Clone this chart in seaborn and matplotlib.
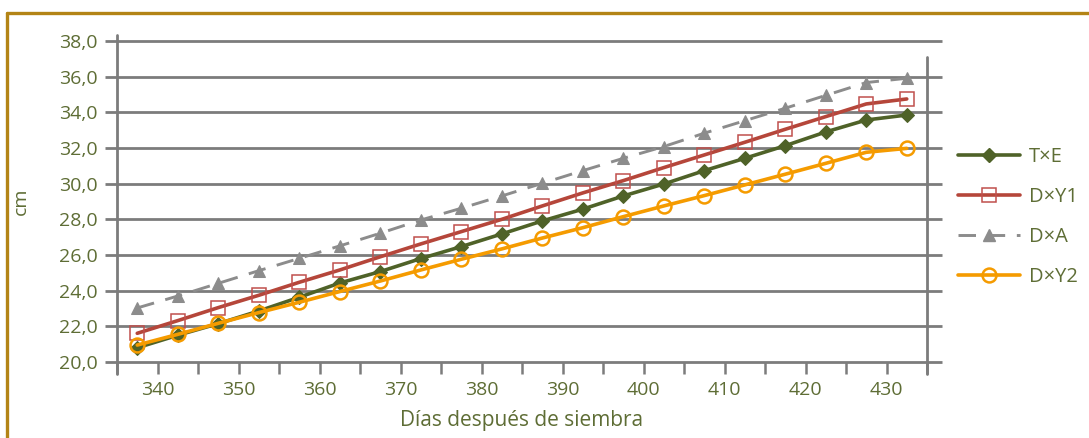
import matplotlib
matplotlib.use("Agg")
import matplotlib.pyplot as plt
from matplotlib.lines import Line2D
from matplotlib.ticker import FuncFormatter, MultipleLocator
import seaborn as sns
import pandas as pd

# ---- data ----
dias = [337.5, 342.5, 347.5, 352.5, 357.5, 362.5, 367.5, 372.5, 377.5, 382.5,
        387.5, 392.5, 397.5, 402.5, 407.5, 412.5, 417.5, 422.5, 427.5, 432.5]
txe = [20.8, 21.5, 22.15, 22.86, 23.63, 24.43, 25.07, 25.8, 26.47, 27.18,
       27.91, 28.57, 29.31, 29.98, 30.73, 31.42, 32.13, 32.9, 33.57, 33.85]
dxy1 = [21.61, 22.32, 23.05, 23.74, 24.47, 25.16, 25.9, 26.62, 27.31, 28.0,
        28.75, 29.48, 30.17, 30.9, 31.61, 32.32, 33.05, 33.76, 34.47, 34.75]
dxa = [23.03, 23.7, 24.41, 25.12, 25.81, 26.51, 27.22, 27.96, 28.62, 29.31,
       30.02, 30.73, 31.42, 32.08, 32.83, 33.53, 34.23, 34.95, 35.67, 35.91]
dxy2 = [20.95, 21.55, 22.17, 22.77, 23.35, 23.95, 24.54, 25.16, 25.76, 26.34,
        26.95, 27.53, 28.15, 28.75, 29.33, 29.93, 30.53, 31.14, 31.76, 31.98]
series_names = ["T×E", "D×Y1", "D×A", "D×Y2"]
x_label = "Días después de siembra"
y_label = "cm"
x_tick_labels = [340, 350, 360, 370, 380, 390, 400, 410, 420, 430]

TEXT = "#5e6d35"
GRID = "#7c7c7c"

sns.set_style("white")
plt.rcParams["font.family"] = ["Open Sans", "DejaVu Sans"]

fig = plt.figure(figsize=(10.89, 4.38), dpi=100)
ax = fig.add_axes([117/1089, 1-362/438, (927-117)/1089, (362-41)/438])

df = pd.DataFrame({"dias": dias, "T×E": txe, "D×Y1": dxy1, "D×A": dxa, "D×Y2": dxy2})

styles = {
    "T×E": dict(color="#4f6228", marker="D", markersize=7, markerfacecolor="#4f6228",
                markeredgecolor="#4f6228", linewidth=2.6, linestyle="-"),
    "D×Y1": dict(color="#b5463a", marker="s", markersize=10, markerfacecolor="none",
                 markeredgecolor="#c0504d", markeredgewidth=1.1, linewidth=2.6, linestyle="-"),
    "D×A": dict(color="#8c8c8c", marker="^", markersize=9, markerfacecolor="#8c8c8c",
                markeredgecolor="#8c8c8c", linewidth=2.1, linestyle=(0, (6, 4))),
    "D×Y2": dict(color="#f59b00", marker="o", markersize=10, markerfacecolor="none",
                 markeredgecolor="#f59b00", markeredgewidth=1.8, linewidth=2.6, linestyle="-"),
}

# gridlines (drawn first, behind data)
yticks = [20, 22, 24, 26, 28, 30, 32, 34, 36, 38]
ax.hlines(yticks, 333.5, 436.9, colors=GRID, linewidth=2.0, clip_on=False, zorder=1)

handles = []
for name in series_names:
    st = styles[name]
    sns.lineplot(data=df, x="dias", y=name, ax=ax, zorder=3, **st)
    handles.append(Line2D([], [], **st))

ax.set_xlim(335, 435)
ax.set_ylim(20, 38)

# spines
for s in ["top", "right", "bottom", "left"]:
    ax.spines[s].set_visible(False)
ax.axvline(335, ymin=-0.037, ymax=1.02, color=GRID, linewidth=2.0, clip_on=False, zorder=2)
ax.axvline(435, ymin=-0.037, ymax=0.95, color=GRID, linewidth=2.0, clip_on=False, zorder=2)

# ticks
ax.xaxis.set_major_locator(MultipleLocator(5))
ax.xaxis.set_major_formatter(FuncFormatter(
    lambda v, p: f"{int(round(v))}" if int(round(v)) in x_tick_labels else ""))
ax.set_yticks(yticks)
ax.yaxis.set_major_formatter(FuncFormatter(lambda v, p: f"{v:.1f}".replace(".", ",")))
ax.tick_params(axis="x", direction="out", length=8.6, width=1.8, color=GRID,
               labelcolor=TEXT, labelsize=14, pad=5, bottom=True)
ax.tick_params(axis="y", length=0, labelcolor=TEXT, labelsize=14, pad=14, left=True)

ax.set_xlabel(x_label, color=TEXT, fontsize=15, labelpad=8)
ax.set_ylabel(y_label, color=TEXT, fontsize=14, labelpad=21)
ax.grid(False)

leg = fig.legend(handles, series_names, loc="upper left",
                 bbox_to_anchor=(950/1089, 1-139/438), frameon=False,
                 fontsize=14.5, handlelength=3.1, handletextpad=0.4,
                 labelspacing=1.0, borderaxespad=0)
for t in leg.get_texts():
    t.set_color(TEXT)

# golden frame (top and left)
BORDER = "#b38416"
fig.add_artist(Line2D([7/1089, 1], [1-13/438, 1-13/438], color=BORDER, linewidth=2.4,
                      transform=fig.transFigure))
fig.add_artist(Line2D([7/1089, 7/1089], [0, 1-13/438], color=BORDER, linewidth=2.4,
                      transform=fig.transFigure))

fig.savefig("out.png", dpi=100)
